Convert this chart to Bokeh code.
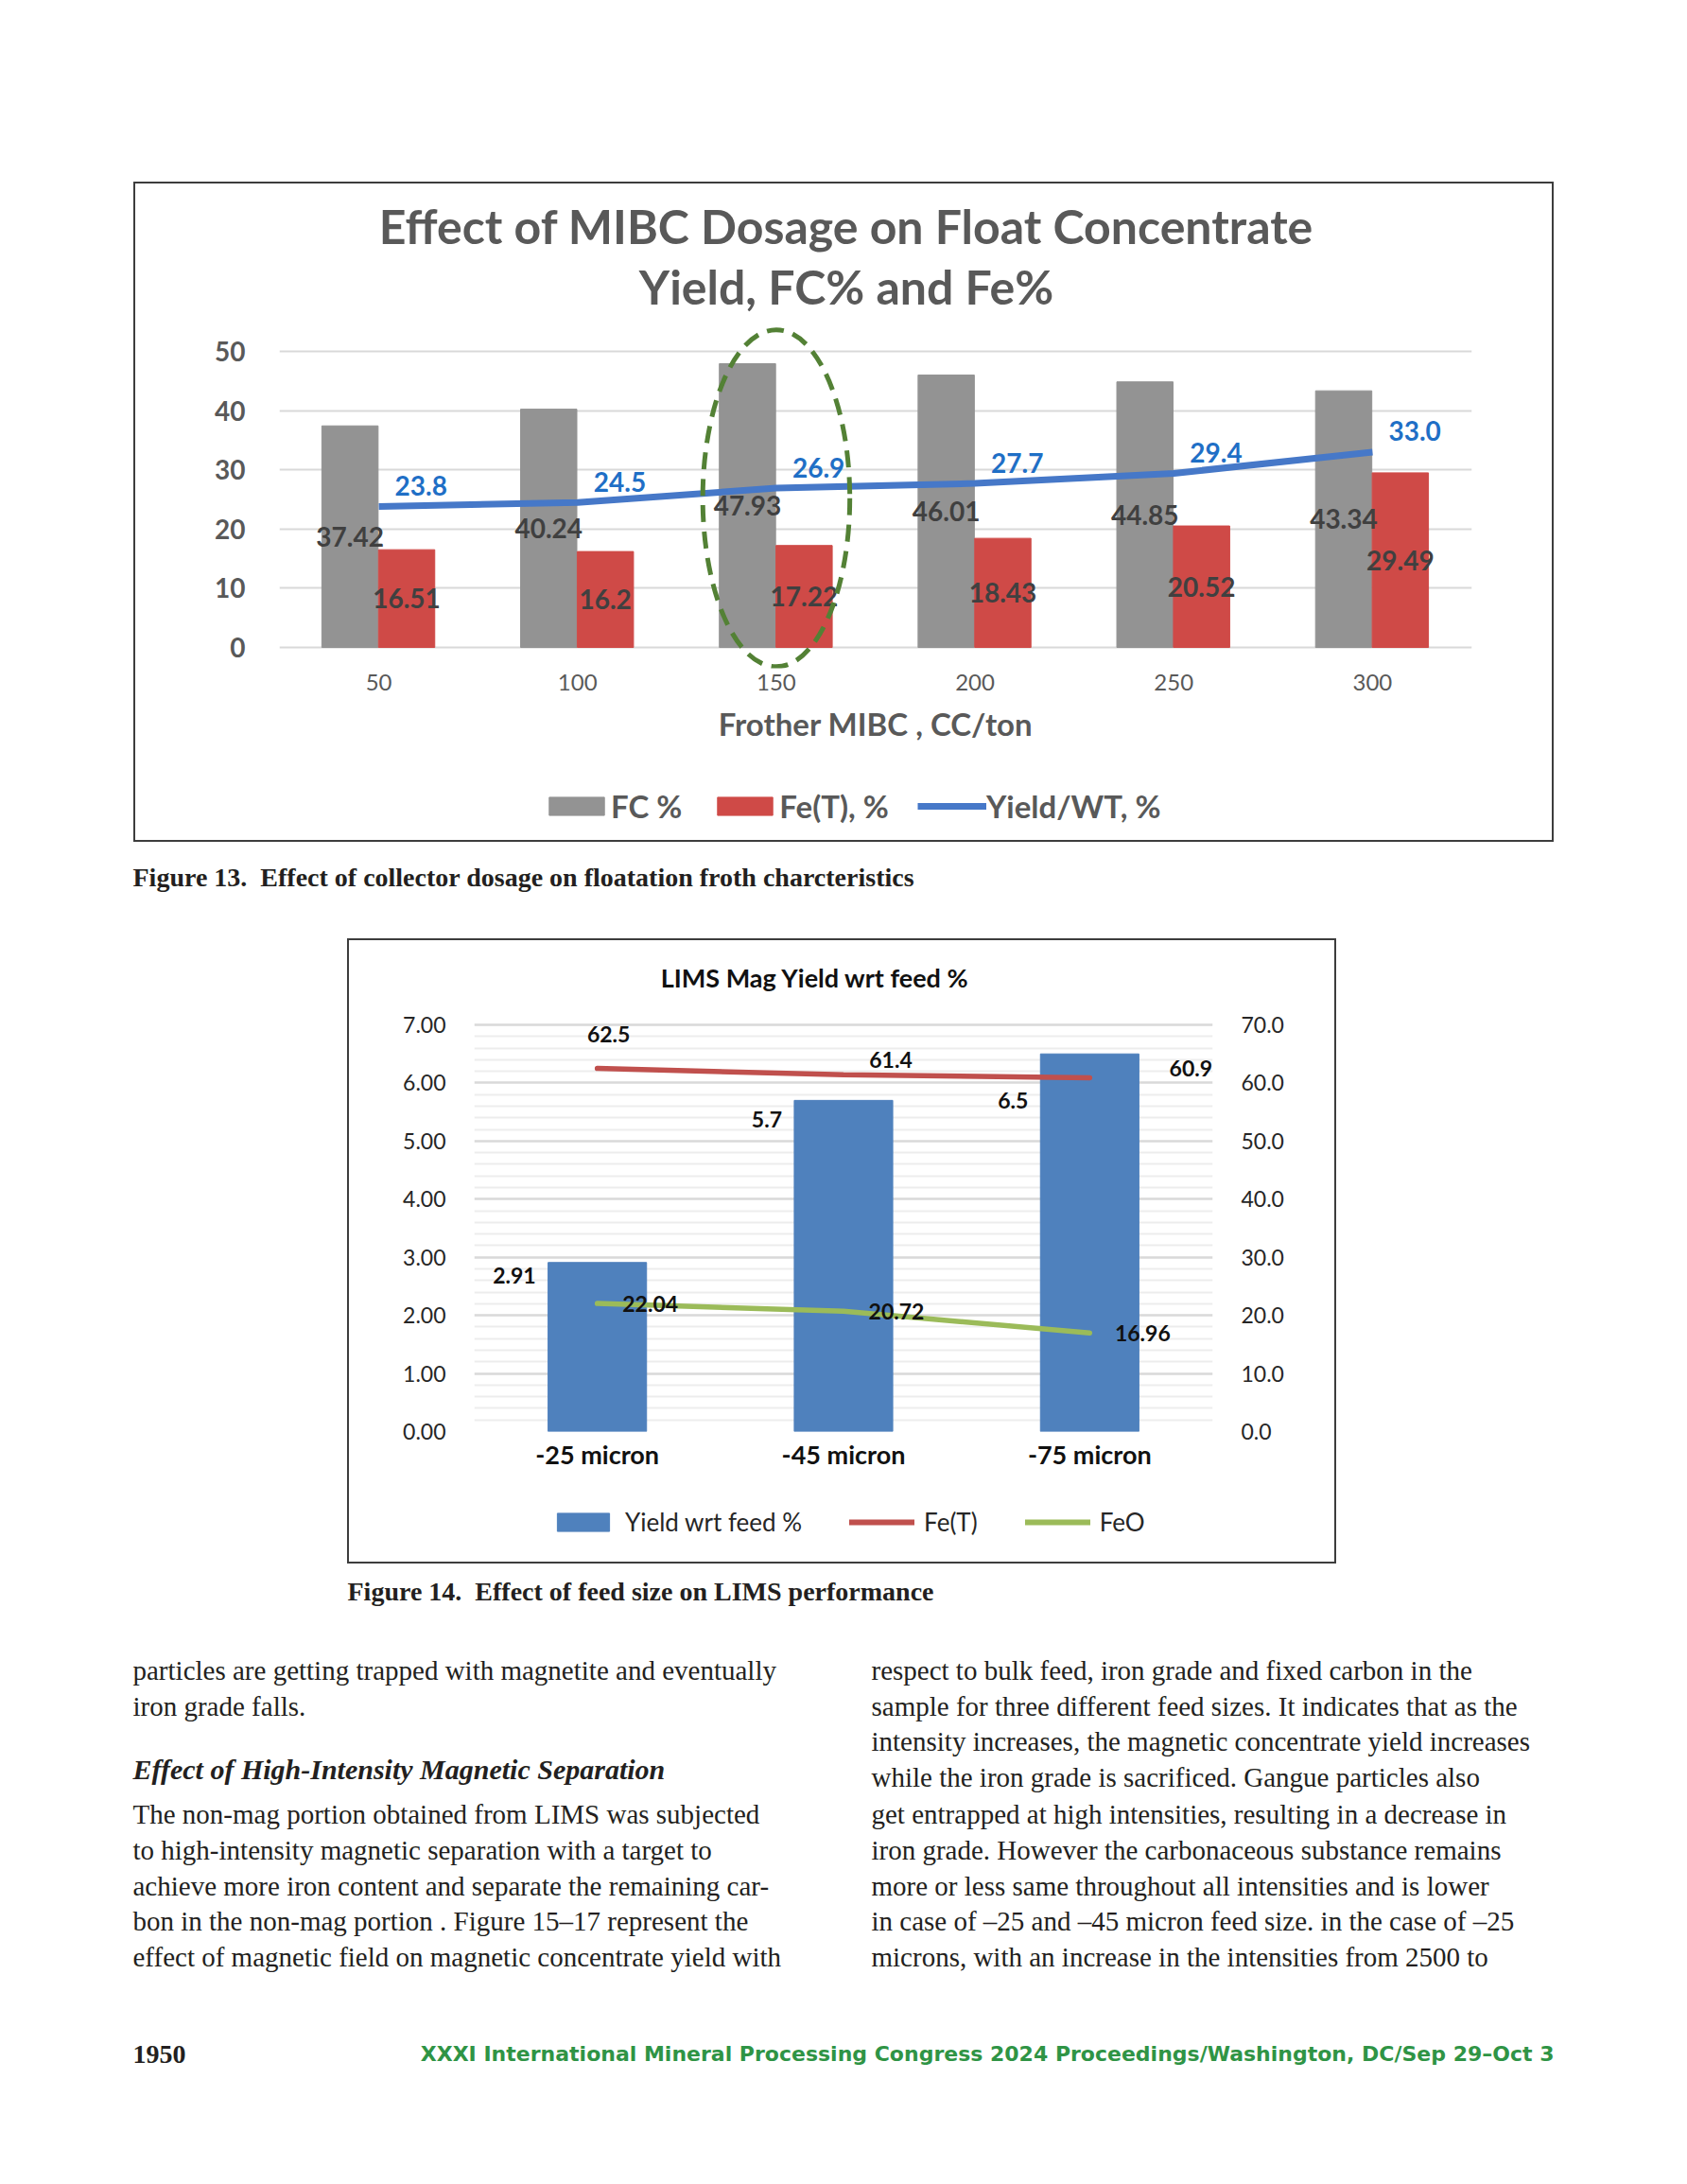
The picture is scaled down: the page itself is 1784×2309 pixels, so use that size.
from bokeh.plotting import figure
from bokeh.models import (FactorRange, Range1d, FixedTicker, LinearAxis, Legend, LegendItem,
                          ColumnDataSource, NumeralTickFormatter, Spacer)
from bokeh.layouts import column, row
from bokeh.transform import dodge
from bokeh.core.properties import value
from bokeh.embed import file_html
from bokeh.resources import INLINE

# ---------------- data: Figure 13 ----------------
dosage = ["50", "100", "150", "200", "250", "300"]
fc_pct = [37.42, 40.24, 47.93, 46.01, 44.85, 43.34]
fe_t_pct = [16.51, 16.2, 17.22, 18.43, 20.52, 29.49]
yield_wt = [23.8, 24.5, 26.9, 27.7, 29.4, 33.0]
fig13_yticks = [0, 10, 20, 30, 40, 50]
fig13_title = ["Effect of MIBC Dosage on Float Concentrate", "Yield, FC% and Fe%"]
fig13_xlabel = "Frother MIBC , CC/ton"
fig13_legend = ["FC %", "Fe(T), %", "Yield/WT, %"]
highlight_dosage = "150"

# ---------------- data: Figure 14 ----------------
feed_size = ["-25 micron", "-45 micron", "-75 micron"]
mag_yield = [2.91, 5.7, 6.5]
fe_total = [62.5, 61.4, 60.9]
feo = [22.04, 20.72, 16.96]
fig14_left_ticks = [0, 1, 2, 3, 4, 5, 6, 7]
fig14_right_ticks = [0, 10, 20, 30, 40, 50, 60, 70]
fig14_title = "LIMS Mag Yield wrt feed %"
fig14_legend = ["Yield wrt feed %", "Fe(T)", "FeO"]

# label nudges (screen px) copied from the hand-placed labels of the original chart
bar_label_dy = [14, 20, 49]
fe_label_dx = [12, 50, 107]
fe_label_dy = [-36, -16, -10]

FONT = value("Lato")
SERIF = value("Liberation Serif")
GRAY_TXT = "#595959"
BOX = "#3d3d3d"


def boxed(inner, w, h):
    """Wrap a column of figures in a 2px dark frame built from layout spacers."""
    line = {"background-color": BOX}
    return column(
        Spacer(width=w, height=2, styles=line),
        row(Spacer(width=2, height=h - 4, styles=line), inner,
            Spacer(width=2, height=h - 4, styles=line)),
        Spacer(width=w, height=2, styles=line),
    )


def legend_fig(w, h):
    lf = figure(width=w, height=h, x_range=Range1d(0, 1), y_range=Range1d(0, 1),
                x_axis_type=None, y_axis_type=None, output_backend="svg",
                toolbar_location=None, min_border=0)
    lf.outline_line_color = None
    lf.grid.grid_line_color = None
    return lf


# swatch-only renderers for the legend strips (their single point lies outside the view)
SW = dict(x=[-1.0], top=[-1.0])
SL = dict(x=[-2.0, -1.0], y=[-1.0, -1.0])

# =============== Figure 13 ===============
src13 = ColumnDataSource(dict(
    x=dosage, fc=fc_pct, fe=fe_t_pct, yw=yield_wt,
    fc_mid=[v / 2 for v in fc_pct], fe_mid=[v / 2 for v in fe_t_pct],
    fc_lbl=[f"{v:g}" for v in fc_pct], fe_lbl=[f"{v:g}" for v in fe_t_pct],
    yw_lbl=[f"{v:.1f}" for v in yield_wt],
))

f13 = figure(x_range=FactorRange(factors=dosage, range_padding=0),
             y_range=Range1d(-3.51, 78.27),
             width=1498, height=622, output_backend="svg", toolbar_location=None,
             min_border_left=152, min_border_right=85, min_border_top=0, min_border_bottom=110)
f13.outline_line_color = None

f13.vbar(x=dodge("x", -0.145, range=f13.x_range), top="fc", width=0.283,
         color="#939393", source=src13)
f13.vbar(x=dodge("x", 0.14, range=f13.x_range), top="fe", width=0.283,
         color="#CF4A47", source=src13)
f13.line(x="x", y="yw", line_width=7, color="#4678C8", source=src13)

f13.text(x=dodge("x", -0.145, range=f13.x_range), y="fc_mid", text="fc_lbl", source=src13,
         text_font=FONT, text_font_style="bold", text_font_size="28px", text_color="#404040",
         text_align="center", text_baseline="middle")
f13.text(x=dodge("x", 0.14, range=f13.x_range), y="fe_mid", text="fe_lbl", source=src13,
         text_font=FONT, text_font_style="bold", text_font_size="28px", text_color="#404040",
         text_align="center", text_baseline="middle")
f13.text(x="x", y="yw", text="yw_lbl", source=src13, x_offset=17, y_offset=-22,
         text_font=FONT, text_font_style="bold", text_font_size="28px", text_color="#1F6FC6",
         text_align="left", text_baseline="middle")

# highlight ellipse around the 150 group
f13.ellipse(x=[highlight_dosage], y=[25.2], width=0.74, height=56.9, fill_color=None,
            line_color="#538135", line_width=5, line_dash="18 10")

# chart title (inside the chart box)
f13.text(x=[3.0, 3.0], y=[71.2, 61.0], text=fig13_title, x_offset=-31,
         text_font=FONT, text_font_style="bold", text_font_size="50px", text_color=GRAY_TXT,
         text_align="center", text_baseline="middle")

f13.yaxis.ticker = FixedTicker(ticks=fig13_yticks)
f13.yaxis.axis_line_color = None
f13.yaxis.major_tick_line_color = None
f13.yaxis.minor_tick_line_color = None
f13.yaxis.major_label_text_font = "Lato"
f13.yaxis.major_label_text_font_style = "bold"
f13.yaxis.major_label_text_font_size = "28px"
f13.yaxis.major_label_text_color = GRAY_TXT
f13.yaxis.major_label_standoff = 30

f13.xaxis.axis_line_color = None
f13.xaxis.major_tick_line_color = None
f13.xaxis.major_label_text_font = "Lato"
f13.xaxis.major_label_text_font_size = "24px"
f13.xaxis.major_label_text_color = GRAY_TXT
f13.xaxis.major_label_standoff = 0
f13.xaxis.axis_label = fig13_xlabel
f13.xaxis.axis_label_text_font = "Lato"
f13.xaxis.axis_label_text_font_style = "bold"
f13.xaxis.axis_label_text_font_size = "33px"
f13.xaxis.axis_label_text_color = GRAY_TXT
f13.xaxis.axis_label_standoff = 12

f13.xgrid.grid_line_color = None
f13.ygrid.grid_line_color = "#D9D9D9"
f13.ygrid.grid_line_width = 2

lf13 = legend_fig(1498, 72)
g_fc = lf13.vbar(width=0.1, color="#939393", source=ColumnDataSource(SW))
g_fe = lf13.vbar(width=0.1, color="#CF4A47", source=ColumnDataSource(SW))
g_yw = lf13.line(line_width=7, color="#4678C8", source=ColumnDataSource(SL))
leg13 = Legend(items=[LegendItem(label=fig13_legend[0], renderers=[g_fc]),
                      LegendItem(label=fig13_legend[1], renderers=[g_fe]),
                      LegendItem(label=fig13_legend[2], renderers=[g_yw])],
               orientation="horizontal", location=(278, 16),
               glyph_width=73, glyph_height=24, label_standoff=0, spacing=30,
               label_text_font="Lato", label_text_font_style="bold",
               label_text_font_size="33px", label_text_color=GRAY_TXT,
               border_line_color=None, background_fill_alpha=0, padding=0, margin=0)
lf13.add_layout(leg13)

# =============== Figure 14 ===============
src14 = ColumnDataSource(dict(
    x=feed_size, y=mag_yield, fe=fe_total, feo=feo,
    y_lbl=[f"{v:g}" for v in mag_yield],
    fe_lbl=[f"{v:.1f}" for v in fe_total],
    feo_lbl=[f"{v:.2f}" for v in feo],
    bar_dy=bar_label_dy, fe_dx=fe_label_dx, fe_dy=fe_label_dy,
))

f14 = figure(x_range=FactorRange(factors=feed_size, range_padding=0),
             y_range=Range1d(0, 8.449),
             width=1042, height=576, output_backend="svg", toolbar_location=None,
             min_border_left=132, min_border_right=129, min_border_top=0, min_border_bottom=57)
f14.outline_line_color = None
f14.extra_y_ranges = {"right": Range1d(0, 84.49)}

f14.vbar(x="x", top="y", width=0.4, color="#4F81BD", source=src14)
f14.line(x="x", y="fe", y_range_name="right", line_width=5.5, color="#C0504D",
         line_cap="round", source=src14)
f14.line(x="x", y="feo", y_range_name="right", line_width=5.5, color="#9BBB59",
         line_cap="round", source=src14)

f14.text(x="x", y="y", text="y_lbl", source=src14, x_offset=-65, y_offset="bar_dy",
         text_font=FONT, text_font_style="bold", text_font_size="23px", text_color="#111111",
         text_align="right", text_baseline="middle")
f14.text(x="x", y="fe", text="fe_lbl", source=src14, y_range_name="right",
         x_offset="fe_dx", y_offset="fe_dy",
         text_font=FONT, text_font_style="bold", text_font_size="23px", text_color="#111111",
         text_align="center", text_baseline="middle")
f14.text(x="x", y="feo", text="feo_lbl", source=src14, y_range_name="right", x_offset=56, y_offset=0,
         text_font=FONT, text_font_style="bold", text_font_size="23px", text_color="#111111",
         text_align="center", text_baseline="middle")

f14.text(x=[1.5], y=[7.81], text=[fig14_title], x_offset=-30,
         text_font=FONT, text_font_style="bold", text_font_size="27px", text_color="#111111",
         text_align="center", text_baseline="middle")

minor = [t / 5 for t in range(1, 35) if t % 5 != 0]
f14.yaxis.ticker = FixedTicker(ticks=fig14_left_ticks, minor_ticks=minor)
f14.yaxis.formatter = NumeralTickFormatter(format="0.00")
ax_r = LinearAxis(y_range_name="right", ticker=FixedTicker(ticks=fig14_right_ticks),
                  formatter=NumeralTickFormatter(format="0.0"))
f14.add_layout(ax_r, "right")
for ax in (f14.yaxis[0], ax_r):
    ax.axis_line_color = None
    ax.major_tick_line_color = None
    ax.minor_tick_line_color = None
    ax.major_label_text_font = "Lato"
    ax.major_label_text_font_size = "23px"
    ax.major_label_text_color = "#262626"
    ax.major_label_standoff = 24

f14.xaxis.axis_line_color = None
f14.xaxis.major_tick_line_color = None
f14.xaxis.major_label_text_font = "Lato"
f14.xaxis.major_label_text_font_style = "bold"
f14.xaxis.major_label_text_font_size = "27px"
f14.xaxis.major_label_text_color = "#111111"
f14.xaxis.major_label_standoff = 1

f14.xgrid.grid_line_color = None
f14.ygrid.grid_line_color = "#D9D9D9"
f14.ygrid.grid_line_width = 2.5
f14.ygrid.minor_grid_line_color = "#EDEDED"
f14.ygrid.minor_grid_line_width = 2

lf14 = legend_fig(1042, 81)
g_y = lf14.vbar(width=0.1, color="#4F81BD", source=ColumnDataSource(SW))
g_fe14 = lf14.line(line_width=6, color="#C0504D", line_cap="round", source=ColumnDataSource(SL))
g_feo = lf14.line(line_width=6, color="#9BBB59", line_cap="round", source=ColumnDataSource(SL))
leg14 = Legend(items=[LegendItem(label=fig14_legend[0], renderers=[g_y]),
                      LegendItem(label=fig14_legend[1], renderers=[g_fe14]),
                      LegendItem(label=fig14_legend[2], renderers=[g_feo])],
               orientation="horizontal", location=(81, 26),
               glyph_width=69, glyph_height=24, label_standoff=10, spacing=50,
               label_text_font="Lato", label_text_font_size="26px", label_text_color="#262626",
               border_line_color=None, background_fill_alpha=0, padding=0, margin=0)
lf14.add_layout(leg14)

# =============== page text ===============
PAGE_W = 1780


def text_fig(h, y_top, y_bot):
    t = figure(width=PAGE_W, height=h, x_range=Range1d(0, PAGE_W), y_range=Range1d(y_bot, y_top),
               x_axis_type=None, y_axis_type=None, output_backend="svg", toolbar_location=None,
               min_border=0)
    t.outline_line_color = None
    t.grid.grid_line_color = None
    return t


cap13 = text_fig(102, 890, 992)
cap13.text(x=[140], y=[927],
           text=["Figure 13.\u00a0\u00a0Effect of collector dosage on floatation froth charcteristics"],
           text_font=SERIF, text_font_style="bold", text_font_size="28px", text_color="#231F20",
           text_align="left", text_baseline="middle")

body = text_fig(648, 1653, 2301)
body.text(x=[367], y=[1682], text=["Figure 14.\u00a0\u00a0Effect of feed size on LIMS performance"],
          text_font=SERIF, text_font_style="bold", text_font_size="28px", text_color="#231F20",
          text_align="left", text_baseline="middle")

left_lines = ["particles are getting trapped with magnetite and eventually",
              "iron grade falls."]
left_lines2 = ["The non-mag portion obtained from LIMS was subjected",
               "to high-intensity magnetic separation with a target to",
               "achieve more iron content and separate the remaining car-",
               "bon in the non-mag portion . Figure 15\u201317 represent the",
               "effect of magnetic field on magnetic concentrate yield with"]
right_lines = ["respect to bulk feed, iron grade and fixed carbon in the",
               "sample for three different feed sizes. It indicates that as the",
               "intensity increases, the magnetic concentrate yield increases",
               "while the iron grade is sacrificed. Gangue particles also",
               "get entrapped at high intensities, resulting in a decrease in",
               "iron grade. However the carbonaceous substance remains",
               "more or less same throughout all intensities and is lower",
               "in case of \u201325 and \u201345 micron feed size. in the case of \u201325",
               "microns, with an increase in the intensities from 2500 to"]
body.text(x=[140] * 7, y=[1765, 1803, 1917, 1955, 1993, 2030, 2068], text=left_lines + left_lines2,
          text_font=SERIF, text_font_size="29px", text_color="#231F20",
          text_align="left", text_baseline="middle")
body.text(x=[921] * 9, y=[1765, 1803, 1840, 1878, 1917, 1955, 1993, 2030, 2068], text=right_lines,
          text_font=SERIF, text_font_size="29px", text_color="#231F20",
          text_align="left", text_baseline="middle")
body.text(x=[140], y=[1870], text=["Effect of High-Intensity Magnetic Separation"],
          text_font=SERIF, text_font_style="bold italic", text_font_size="30px", text_color="#231F20",
          text_align="left", text_baseline="middle")
body.text(x=[140], y=[2171], text=["1950"],
          text_font=SERIF, text_font_style="bold", text_font_size="28px", text_color="#231F20",
          text_align="left", text_baseline="middle")
body.text(x=[1643], y=[2171],
          text=["XXXI International Mineral Processing Congress 2024 Proceedings/Washington, DC/Sep 29\u2013Oct 3"],
          text_font=value("DejaVu Sans"), text_font_style="bold", text_font_size="22px",
          text_color="#2F9445", text_align="right", text_baseline="middle")

page = column(
    Spacer(width=PAGE_W, height=192),
    row(Spacer(width=141, height=698), boxed(column(f13, lf13), 1502, 698)),
    cap13,
    row(Spacer(width=367, height=661), boxed(column(f14, lf14), 1046, 661)),
    body,
)

open("out.html", "w").write(file_html(page, INLINE))
